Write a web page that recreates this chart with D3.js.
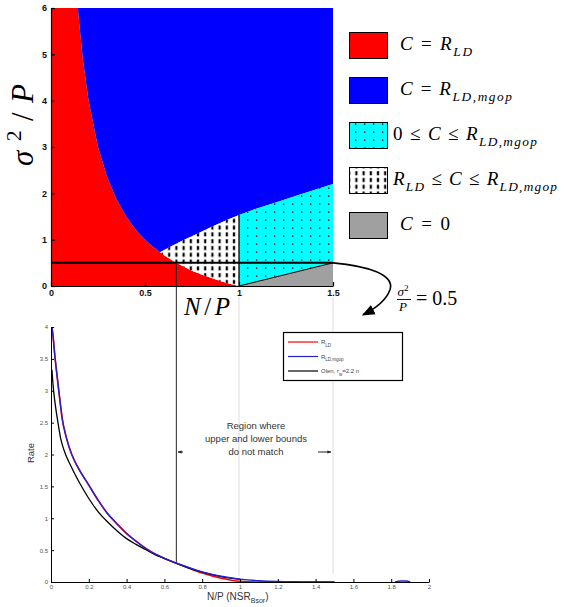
<!DOCTYPE html>
<html><head><meta charset="utf-8">
<script src="https://cdn.jsdelivr.net/npm/d3@7"></script>
<style>body{margin:0;background:#fff}svg{display:block}</style>
</head><body>
<svg id="c" width="562" height="607"></svg>
<script>
// ---- Operating regions in the (N/P, sigma^2/P) plane ----
const ldBoundaryNP    = [0.143,0.15,0.17,0.2,0.25,0.3,0.35,0.4,0.45,0.5,0.55,0.58,0.6,0.65,0.7,0.75,0.8,0.85,0.9,0.95,1.0];
const ldBoundarySigma = [6.0,5.67,4.88,4.0,3.0,2.33,1.86,1.5,1.22,1.0,0.82,0.73,0.67,0.54,0.43,0.33,0.25,0.18,0.11,0.05,0.0];
const mgopBoundaryNP    = [0.58,0.65,0.7,0.775,0.85,0.92,1.0,1.1,1.2,1.3,1.4,1.5];
const mgopBoundarySigma = [0.73,0.88,0.98,1.12,1.27,1.40,1.53,1.68,1.81,1.94,2.07,2.2];
const zeroBoundaryNP    = [1.0,1.5];
const zeroBoundarySigma = [0.0,0.5];
const sigmaCut = 0.5;          // horizontal slice sigma^2/P
const npCut = [2/3, 1, 1.5];    // slice crossings
const xTicksTop = [0,0.5,1,1.5];
const yTicksTop = [0,1,2,3,4,5,6];

// ---- Rates along the slice sigma^2/P = 0.5 ----
const rateNP   = [0.005,0.01,0.02,0.03,0.04,0.05,0.06,0.08,0.1,0.12,0.15,0.2,0.25,0.3,0.35,0.4,0.45,0.5,0.55,0.6,0.667,0.7,0.8,0.9,1.0,1.1,1.2,1.3,1.4,1.5,1.6,1.82,1.85,1.88,1.9];
const rateLD   = [4.0,3.88,3.56,3.29,3.03,2.78,2.55,2.28,2.08,1.93,1.76,1.52,1.28,1.07,0.91,0.76,0.64,0.53,0.44,0.37,0.29,0.255,0.14,0.06,0.012,0,0,0,0,0,null,null,null,null,null];
const rateMgop = [4.0,3.88,3.56,3.29,3.03,2.78,2.55,2.28,2.08,1.93,1.76,1.52,1.28,1.07,0.91,0.76,0.64,0.53,0.44,0.37,0.29,0.255,0.16,0.09,0.045,0.02,0.008,0.003,0,0,null,0,0.015,0.015,0];
const rateLow  = [3.33,3.12,2.84,2.63,2.44,2.27,2.15,1.98,1.85,1.73,1.56,1.31,1.10,0.94,0.80,0.68,0.59,0.51,0.43,0.37,0.29,0.25,0.155,0.085,0.04,null,null,null,null,null,null,null,null,null,null];
const xTicksBot = [0,0.2,0.4,0.6,0.8,1,1.2,1.4,1.6,1.8,2];
const yTicksBot = [0,0.5,1,1.5,2,2.5,3,3.5,4];

const svg = d3.select("#c");
const serif = "'Liberation Serif','DejaVu Serif',serif";
const sans = "'Liberation Sans',Arial,sans-serif";

// patterns
const defs = svg.append("defs");
const pd = defs.append("pattern").attr("id","dash").attr("patternUnits","userSpaceOnUse")
  .attr("width",7.2).attr("height",6.8);
pd.append("rect").attr("width",7.2).attr("height",6.8).attr("fill","#fff");
pd.append("rect").attr("x",2.5).attr("y",1.2).attr("width",2.2).attr("height",4).attr("fill","#000");
const pc = defs.append("pattern").attr("id","cdot").attr("patternUnits","userSpaceOnUse")
  .attr("width",9).attr("height",8);
pc.append("rect").attr("width",9).attr("height",8).attr("fill","#00ffff");
pc.append("rect").attr("x",4).attr("y",3.5).attr("width",1.3).attr("height",1.3).attr("fill","#000");
defs.append("marker").attr("id","ah").attr("viewBox","0 0 10 10").attr("refX",9).attr("refY",5)
  .attr("markerWidth",8).attr("markerHeight",8).attr("orient","auto-start-reverse")
  .append("path").attr("d","M0,1 L10,5 L0,9 Z").attr("fill","#000");
defs.append("marker").attr("id","ahs").attr("viewBox","0 0 10 10").attr("refX",9).attr("refY",5)
  .attr("markerWidth",4).attr("markerHeight",4).attr("orient","auto")
  .append("path").attr("d","M0,1 L10,5 L0,9 Z").attr("fill","#222");

function mathText(g, x, y, parts, size, len, anchor) {
  const t = g.append("text").attr("x",x).attr("y",y).attr("font-family",serif)
    .attr("font-size",size).attr("fill","#000");
  if (anchor) t.attr("text-anchor",anchor);
  let shift = 0;
  parts.forEach(p => {
    const ts = t.append("tspan").text(p.t);
    if (p.i) ts.attr("font-style","italic");
    const target = p.sub ? size*0.32 : p.sup ? -size*0.38 : 0;
    if (target !== shift) { ts.attr("dy", target - shift); shift = target; }
    if (p.sub || p.sup) ts.attr("font-size", size*0.7);
  });
  if (len) t.attr("textLength",len).attr("lengthAdjust","spacing");
  return t;
}

// ================= upper panel =================
const xT = d3.scaleLinear().domain([0,1.5]).range([51,333]);
const yT = d3.scaleLinear().domain([0,6]).range([286,8]);
const pt = (a,b) => [xT(a), yT(b)];
const ld = ldBoundaryNP.map((v,i)=>[v, ldBoundarySigma[i]]);
const mg = mgopBoundaryNP.map((v,i)=>[v, mgopBoundarySigma[i]]);
const mgStart = mg[0][0];
const poly = pts => "M" + pts.map(p=>pt(p[0],p[1]).join(",")).join("L") + "Z";

const upper = svg.append("g");
// C = R_LD
upper.append("path").attr("fill","#ff0000")
  .attr("d", poly([[0,0],[0,6], ...ld]));
// C = R_LD,mgop
upper.append("path").attr("fill","#0000ff")
  .attr("d", poly([...ld.filter(p=>p[0]<=mgStart), ...mg.slice(1), [1.5,6], [ld[0][0],6]]));
// R_LD <= C <= R_LD,mgop
upper.append("path").attr("fill","url(#dash)")
  .attr("d", poly([...ld.filter(p=>p[0]>=mgStart), ...mg.filter(p=>p[0]<=1).reverse()]));
// 0 <= C <= R_LD,mgop
const zb = zeroBoundaryNP.map((v,i)=>[v, zeroBoundarySigma[i]]);
upper.append("path").attr("fill","url(#cdot)")
  .attr("d", poly([...zb, ...mg.filter(p=>p[0]>=1).reverse()]));
// C = 0
upper.append("path").attr("fill","#a0a0a0")
  .attr("d", poly([zb[0],[zb[1][0],0],zb[1]]));
upper.append("line").attr("x1",xT(zb[0][0])).attr("y1",yT(zb[0][1])).attr("x2",xT(zb[1][0])).attr("y2",yT(zb[1][1]))
  .attr("stroke","#000").attr("stroke-width",1);
// vertical divider at N/P = 1
const mgAt1 = mg.find(p=>p[0]===1)[1];
upper.append("line").attr("x1",xT(1)).attr("x2",xT(1)).attr("y1",yT(0)).attr("y2",yT(mgAt1))
  .attr("stroke","#000").attr("stroke-width",1.3);

// lower-panel scales (needed for connectors)
const xB = d3.scaleLinear().domain([0,2]).range([51,429]);
const yB = d3.scaleLinear().domain([0,4]).range([582,327]);

// guide lines down into the rate panel
svg.append("line").attr("x1",xT(npCut[1])).attr("x2",xT(npCut[1])).attr("y1",297).attr("y2",yB(0.1))
  .attr("stroke","#dcdcdc").attr("stroke-width",1);
svg.append("line").attr("x1",xT(npCut[2])).attr("x2",xT(npCut[2])).attr("y1",297).attr("y2",yB(0.13))
  .attr("stroke","#dcdcdc").attr("stroke-width",1);
svg.append("line").attr("x1",xT(npCut[0])).attr("x2",xT(npCut[0])).attr("y1",yT(sigmaCut)).attr("y2",yB(0.29))
  .attr("stroke","#222").attr("stroke-width",1);

// slice line sigma^2/P = 0.5 with callout
upper.append("line").attr("x1",xT(0)).attr("x2",xT(1.5)).attr("y1",yT(sigmaCut)).attr("y2",yT(sigmaCut))
  .attr("stroke","#000").attr("stroke-width",2);
const cx0 = xT(1.5), cy0 = yT(sigmaCut);
svg.append("path").attr("fill","none").attr("stroke","#000").attr("stroke-width",1.6)
  .attr("marker-end","url(#ah)")
  .attr("d",`M${cx0},${cy0} C${cx0+35},${cy0+3} ${cx0+62},${cy0+12} ${cx0+57},${cy0+27} C${cx0+53},${cy0+38} ${cx0+42},${cy0+46} ${cx0+30},${cy0+52}`);

// upper axes
const axL = upper.append("g").attr("transform",`translate(${xT(0)},0)`)
  .call(d3.axisLeft(yT).tickValues(yTicksTop).tickSize(-4).tickSizeOuter(0).tickPadding(4).tickFormat(d3.format("")));
const axB = upper.append("g").attr("transform",`translate(0,${yT(0)})`)
  .call(d3.axisBottom(xT).tickValues(xTicksTop).tickSize(-4).tickSizeOuter(0).tickPadding(4).tickFormat(d3.format("")));
[axL,axB].forEach(a=>{
  a.selectAll("path,line").attr("stroke","#000").attr("stroke-width",1.2);
  a.selectAll("text").attr("font-family",sans).attr("font-size",9).attr("font-weight","bold").attr("fill","#111");
});

mathText(svg, 0, 0, [{t:"σ",i:true},{t:"2",sup:true},{t:"/"},{t:"P",i:true}], 31, 82, "middle")
  .attr("transform","translate(33,125) rotate(-90)");
mathText(svg, 207, 315, [{t:"N",i:true},{t:"/"},{t:"P",i:true}], 25, 46, "middle");

// upper legend
const legItems = [
  {fill:"#ff0000", x:400, len:72, parts:[{t:"C",i:true},{t:" = "},{t:"R",i:true},{t:"LD",i:true,sub:true}]},
  {fill:"#0000ff", x:400, len:112, parts:[{t:"C",i:true},{t:" = "},{t:"R",i:true},{t:"LD,mgop",i:true,sub:true}]},
  {fill:"url(#cdot)", x:393, len:144, parts:[{t:"0 ≤ "},{t:"C",i:true},{t:" ≤ "},{t:"R",i:true},{t:"LD,mgop",i:true,sub:true}]},
  {fill:"url(#dash)", x:393, len:164, parts:[{t:"R",i:true},{t:"LD",i:true,sub:true},{t:" ≤ "},{t:"C",i:true},{t:" ≤ "},{t:"R",i:true},{t:"LD,mgop",i:true,sub:true}]},
  {fill:"#a0a0a0", x:400, len:50, parts:[{t:"C",i:true},{t:" = 0"}]}
];
const leg = svg.append("g");
legItems.forEach((d,i)=>{
  const y0 = 32 + i*45;
  leg.append("rect").attr("x",349.5).attr("y",y0+0.5).attr("width",38).attr("height",26)
    .attr("fill",d.fill).attr("stroke","#000").attr("stroke-width",1);
  mathText(leg, d.x, y0+18, d.parts, 19, d.len);
});

// callout label sigma^2/P = 0.5
mathText(svg, 403, 296, [{t:"σ",i:true},{t:"2",sup:true}], 13, null, "middle");
svg.append("line").attr("x1",397).attr("x2",411).attr("y1",299.5).attr("y2",299.5).attr("stroke","#000").attr("stroke-width",0.9);
mathText(svg, 403, 311, [{t:"P",i:true}], 13, null, "middle");
mathText(svg, 416, 305, [{t:"= 0.5"}], 20);

// ================= lower panel =================
const lower = svg.append("g");
const mkLine = vals => d3.line().defined((d,i)=>vals[i]!==null).curve(d3.curveMonotoneX)
  .x(d=>xB(d)).y((d,i)=>yB(vals[i]))(rateNP);
lower.append("path").attr("d",mkLine(rateLD)).attr("fill","none").attr("stroke","#ff0000").attr("stroke-width",1.6);
lower.append("path").attr("d",mkLine(rateLow)).attr("fill","none").attr("stroke","#000").attr("stroke-width",1.3);
lower.append("path").attr("d",mkLine(rateMgop)).attr("fill","none").attr("stroke","#2020d0").attr("stroke-width",1.4);

const bL = lower.append("g").attr("transform",`translate(${xB(0)},0)`)
  .call(d3.axisLeft(yB).tickValues(yTicksBot).tickSize(-3).tickSizeOuter(0).tickPadding(3).tickFormat(d3.format("")));
const bB = lower.append("g").attr("transform",`translate(0,${yB(0)})`)
  .call(d3.axisBottom(xB).tickValues(xTicksBot).tickSize(-3).tickSizeOuter(0).tickPadding(3).tickFormat(d3.format("")));
[bL,bB].forEach(a=>{
  a.selectAll("path,line").attr("stroke","#000").attr("stroke-width",1);
  a.selectAll("text").attr("font-family",sans).attr("font-size",6).attr("fill","#555");
});

svg.append("text").attr("transform","translate(34,453) rotate(-90)").attr("text-anchor","middle")
  .attr("font-family",sans).attr("font-size",9.5).attr("fill","#333").text("Rate");
const xl = svg.append("text").attr("x",207).attr("y",600).attr("font-family",sans).attr("font-size",10).attr("fill","#333");
xl.append("tspan").text("N/P  (NSR");
xl.append("tspan").attr("dy",3).attr("font-size",7).text("Bsor");
xl.append("tspan").attr("dy",-3).text(")");

// region note
const note = ["Region where","upper and lower bounds","do not match"];
svg.append("g").selectAll("text").data(note).join("text")
  .attr("x",256).attr("y",(d,i)=>429+i*13).attr("text-anchor","middle")
  .attr("font-family",sans).attr("font-size",9.5).attr("fill","#333").text(d=>d);
svg.append("line").attr("x1",183).attr("x2",178).attr("y1",452).attr("y2",452)
  .attr("stroke","#222").attr("stroke-width",1).attr("marker-end","url(#ahs)");
svg.append("line").attr("x1",318).attr("x2",xT(npCut[2])-2).attr("y1",452).attr("y2",452)
  .attr("stroke","#222").attr("stroke-width",1).attr("marker-end","url(#ahs)");

// lower legend
const bleg = svg.append("g");
bleg.append("rect").attr("x",283.5).attr("y",332.5).attr("width",119).attr("height",48)
  .attr("fill","#fff").attr("stroke","#000").attr("stroke-width",1.2);
const blItems = [
  {c:"#ff0000", parts:[["R",0],["LD",1]]},
  {c:"#2020d0", parts:[["R",0],["LD,mgop",1]]},
  {c:"#000", parts:[["Olen, r",0],["w",1],["=2.2 n",0]]}
];
blItems.forEach((d,i)=>{
  const y = 342 + i*14.5;
  bleg.append("line").attr("x1",288).attr("x2",318).attr("y1",y).attr("y2",y).attr("stroke",d.c).attr("stroke-width",1.2);
  const t = bleg.append("text").attr("x",321).attr("y",y+2).attr("font-family",sans).attr("font-size",6).attr("fill","#444");
  let s = 0;
  d.parts.forEach(([txt,sub])=>{
    const ts = t.append("tspan").text(txt);
    const target = sub ? 2.5 : 0;
    if (target!==s){ ts.attr("dy",target-s); s=target; }
    if (sub) ts.attr("font-size",4.5);
  });
});
</script>
</body></html>
